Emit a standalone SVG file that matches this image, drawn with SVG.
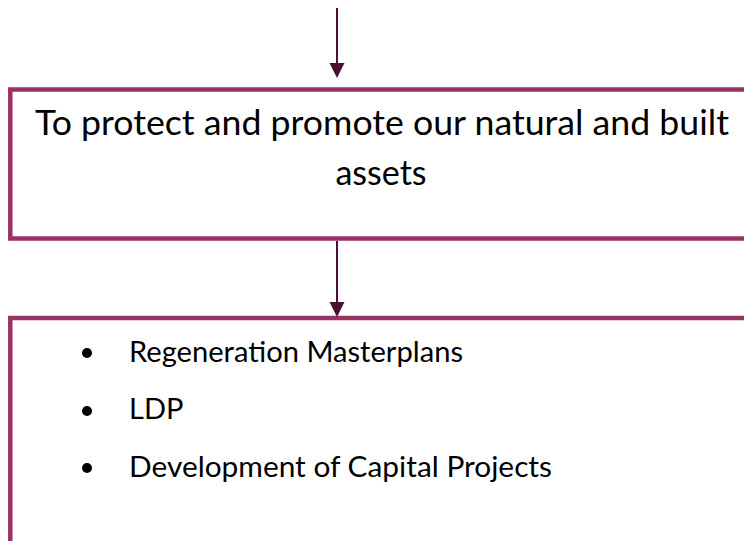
<svg xmlns="http://www.w3.org/2000/svg" width="744" height="541" viewBox="0 0 744 541">
<style>
.box{fill:#fff;stroke:#993366;stroke-width:4.5}
.conn{stroke:#4a1033;stroke-width:2;fill:none}
.t{font-family:Lato,"Open Sans",sans-serif;fill:#000}
.big{font-size:34px}
.mid{font-size:29px}
</style>
<rect width="744" height="541" fill="#fff"/>
<g id="node1">
<rect class="box" x="10.3" y="89.5" width="800" height="149"/>
<text class="t big" x="35" y="135" textLength="694" lengthAdjust="spacingAndGlyphs">To protect and promote our natural and built</text>
<text class="t big" x="381" y="185" text-anchor="middle">assets</text>
</g>
<g id="node2">
<rect class="box" x="10.3" y="318" width="800" height="260"/>
<circle cx="87" cy="353" r="5" fill="#000"/>
<circle cx="87" cy="411" r="5" fill="#000"/>
<circle cx="87" cy="468" r="5" fill="#000"/>
<text class="t mid" x="129" y="362" textLength="334" lengthAdjust="spacingAndGlyphs">Regeneration Masterplans</text>
<text class="t mid" x="129" y="419">LDP</text>
<text class="t mid" x="129" y="477" textLength="423" lengthAdjust="spacingAndGlyphs">Development of Capital Projects</text>
</g>
<g id="connectors">
<line class="conn" x1="337" y1="8" x2="337" y2="63"/>
<path d="M329.5,63 L344.5,63 L337,78 z" fill="#4a1033"/>
<line class="conn" x1="337" y1="241" x2="337" y2="302"/>
<path d="M329.5,302 L344.5,302 L337,317 z" fill="#4a1033"/>
</g>
</svg>
